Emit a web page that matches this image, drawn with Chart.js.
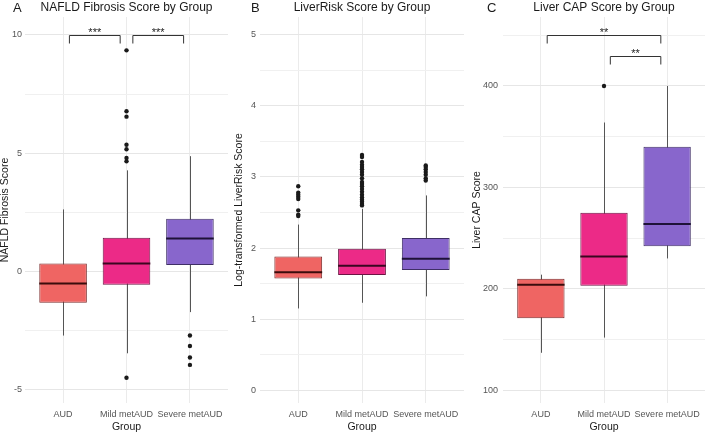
<!DOCTYPE html>
<html>
<head>
<meta charset="utf-8">
<script src="https://cdn.jsdelivr.net/npm/chart.js@4.4.0/dist/chart.umd.min.js"></script>
<style>
  body { margin: 0; background: #fff; }
  #wrap { position: relative; width: 709px; height: 433px; }
  canvas { position: absolute; top: 0; }
</style>
</head>
<body>
<div id="wrap">
  <canvas id="panelA" width="232" height="433" style="left:0px"></canvas>
  <canvas id="panelB" width="238" height="433" style="left:232px"></canvas>
  <canvas id="panelC" width="239" height="433" style="left:470px"></canvas>
</div>
<script>
// groups and colours
const groups = ['AUD', 'Mild metAUD', 'Severe metAUD'];
const boxFill = ['#EF6563', '#EC2A87', '#8866CC'];
const boxLine = ['#7A2B2B', '#6E1444', '#3F2F66'];
const medLine = ['#3A0C0C', '#3A0620', '#1E1238'];

// A : NAFLD fibrosis score
const nafldLow = [-2.7, -3.45, -1.71];
const nafldQ1 = [-1.31, -0.55, 0.28];
const nafldMed = [-0.5, 0.34, 1.4];
const nafldQ3 = [0.34, 1.43, 2.23];
const nafldHigh = [2.63, 4.28, 4.88];
const nafldOut = [[], [9.35, 6.78, 6.55, 5.36, 5.17, 4.8, 4.66, -4.48], [-2.7, -3.14, -3.63, -3.94]];
const nafldTicks = [-5, 0, 5, 10];
const nafldGrid = [-5, -2.5, 0, 2.5, 5, 7.5, 10];
const nafldSig = [{ from: 0.1, to: 0.9, y: 10, text: '***' }, { from: 1.1, to: 1.9, y: 10, text: '***' }];

// B : LiverRisk score (log)
const riskLow = [1.15, 1.23, 1.32];
const riskQ1 = [1.57, 1.62, 1.69];
const riskMed = [1.66, 1.75, 1.85];
const riskQ3 = [1.88, 1.99, 2.14];
const riskHigh = [2.33, 2.55, 2.74];
const riskOut = [
  [2.87, 2.78, 2.75, 2.72, 2.69, 2.53, 2.47, 2.45],
  [3.31, 3.28, 3.21, 3.17, 3.14, 3.11, 3.07, 3.03, 2.98, 2.93, 2.9, 2.87, 2.83, 2.79, 2.75, 2.71, 2.68, 2.65, 2.62, 2.6],
  [3.16, 3.14, 3.11, 3.07, 3.03, 2.98, 2.95]
];
const riskTicks = [0, 1, 2, 3, 4, 5];
const riskGrid = [0, 0.5, 1, 1.5, 2, 2.5, 3, 3.5, 4, 4.5, 5];

// C : Liver CAP score
const capLow = [137, 152, 230];
const capQ1 = [171, 203, 242];
const capMed = [204, 232, 264];
const capQ3 = [210, 275, 340];
const capHigh = [214, 364, 400];
const capOut = [[], [400], []];
const capTicks = [100, 200, 300, 400];
const capGrid = [100, 150, 200, 250, 300, 350, 400, 450];
const capSig = [{ from: 0.1, to: 1.9, y: 450, text: '**' }, { from: 1.1, to: 1.9, y: 430, text: '**' }];

const FONT = '"Liberation Sans", Arial, sans-serif';

// whiskers, medians and significance brackets
const boxExtras = {
  id: 'boxExtras',
  beforeDatasetsDraw(chart, args, opts) {
    const { ctx, scales: { x, y } } = chart;
    ctx.save();
    ctx.strokeStyle = '#555';
    ctx.lineWidth = 1;
    opts.low.forEach((lo, i) => {
      const px = Math.round(x.getPixelForValue(i)) + 0.5;
      ctx.beginPath();
      ctx.moveTo(px, y.getPixelForValue(lo));
      ctx.lineTo(px, y.getPixelForValue(opts.high[i]));
      ctx.stroke();
    });
    ctx.restore();
  },
  afterDatasetsDraw(chart, args, opts) {
    const { ctx, scales: { x, y } } = chart;
    const meta = chart.getDatasetMeta(0);
    ctx.save();
    meta.data.forEach((bar, i) => {
      const half = bar.width / 2;
      const py = y.getPixelForValue(opts.med[i]);
      ctx.strokeStyle = medLine[i];
      ctx.lineWidth = 2;
      ctx.beginPath();
      ctx.moveTo(bar.x - half, py);
      ctx.lineTo(bar.x + half, py);
      ctx.stroke();
    });
    (opts.sig || []).forEach(s => {
      const x1 = x.getPixelForValue(s.from), x2 = x.getPixelForValue(s.to);
      const py = Math.round(y.getPixelForValue(s.y)) + 0.5;
      ctx.strokeStyle = '#333';
      ctx.lineWidth = 1;
      ctx.beginPath();
      ctx.moveTo(x1, py + 8);
      ctx.lineTo(x1, py);
      ctx.lineTo(x2, py);
      ctx.lineTo(x2, py + 8);
      ctx.stroke();
      ctx.fillStyle = '#222';
      ctx.font = '11px ' + FONT;
      ctx.textAlign = 'center';
      ctx.textBaseline = 'alphabetic';
      ctx.fillText(s.text, (x1 + x2) / 2, py);
    });
    ctx.restore();
  }
};

// panel letter + title centred over the plot area
const panelText = {
  id: 'panelText',
  afterDraw(chart, args, opts) {
    const { ctx, chartArea } = chart;
    ctx.save();
    ctx.fillStyle = '#1a1a1a';
    ctx.textBaseline = 'middle';
    ctx.font = '12px ' + FONT;
    ctx.textAlign = 'center';
    ctx.fillText(opts.title, (chartArea.left + chartArea.right) / 2, 8);
    ctx.font = '13px ' + FONT;
    ctx.textAlign = 'left';
    ctx.fillText(opts.letter, opts.letterX, 8);
    ctx.restore();
  }
};

function makePanel(id, p) {
  const boxes = groups.map((g, i) => ({ x: i, y: [p.q1[i], p.q3[i]] }));
  const outliers = p.out.flatMap((vals, i) => vals.map(v => ({ x: i, y: v })));

  new Chart(document.getElementById(id), {
    type: 'bar',
    data: {
      datasets: [{
        data: boxes,
        backgroundColor: boxFill,
        borderColor: boxLine,
        borderWidth: 1,
        borderSkipped: false,
        barPercentage: 0.75,
        categoryPercentage: 1
      }, {
        type: 'scatter',
        data: outliers,
        pointRadius: 2.2,
        backgroundColor: '#1a1a1a',
        borderWidth: 0
      }]
    },
    options: {
      responsive: false,
      animation: false,
      devicePixelRatio: 1,
      layout: { padding: { top: 17, left: 0, right: p.padRight, bottom: 0 } },
      plugins: {
        legend: { display: false },
        tooltip: { enabled: false },
        boxExtras: { low: p.low, high: p.high, med: p.med, sig: p.sig },
        panelText: { title: p.title, letter: p.letter, letterX: p.letterX }
      },
      scales: {
        x: {
          type: 'linear',
          min: -0.6,
          max: 2.6,
          offset: false,
          afterBuildTicks: s => { s.ticks = groups.map((g, i) => ({ value: i })); },
          afterFit: s => { s.height = 30; },
          ticks: {
            callback: v => groups[v],
            autoSkip: false,
            maxRotation: 0,
            padding: 6,
            color: '#555',
            font: { family: FONT, size: 9 }
          },
          grid: { color: '#ebebeb', drawTicks: false, offset: false },
          border: { display: false },
          title: {
            display: true,
            text: 'Group',
            color: '#1a1a1a',
            font: { family: FONT, size: 10.5 },
            padding: { top: 0, bottom: 0 }
          }
        },
        y: {
          min: p.min,
          max: p.max,
          afterBuildTicks: s => { s.ticks = p.grid.map(v => ({ value: v })); },
          afterFit: s => { s.width = p.yWidth; },
          ticks: {
            callback: v => p.ticks.includes(v) ? String(v) : '',
            padding: p.tickPad,
            color: '#555',
            font: { family: FONT, size: 9 }
          },
          grid: {
            drawTicks: false,
            color: c => p.ticks.includes(c.tick.value) ? '#e6e6e6' : '#f0f0f0'
          },
          border: { display: false },
          title: {
            display: true,
            text: p.yTitle,
            color: '#1a1a1a',
            font: { family: FONT, size: 10.5, lineHeight: 1 },
            padding: { top: p.titlePad, bottom: 0 }
          }
        }
      }
    },
    plugins: [boxExtras, panelText]
  });
}

makePanel('panelA', {
  low: nafldLow, q1: nafldQ1, med: nafldMed, q3: nafldQ3, high: nafldHigh, out: nafldOut,
  ticks: nafldTicks, grid: nafldGrid, sig: nafldSig, min: -5.55, max: 10.76,
  title: 'NAFLD Fibrosis Score by Group', letter: 'A', letterX: 13,
  yTitle: 'NAFLD Fibrosis Score', yWidth: 25, tickPad: 3, titlePad: 0, padRight: 0
});

makePanel('panelB', {
  low: riskLow, q1: riskQ1, med: riskMed, q3: riskQ3, high: riskHigh, out: riskOut,
  ticks: riskTicks, grid: riskGrid, sig: [], min: -0.18, max: 5.25,
  title: 'LiverRisk Score by Group', letter: 'B', letterX: 19,
  yTitle: 'Log-transformed LiverRisk Score', yWidth: 28, tickPad: 4, titlePad: 2, padRight: 6
});

makePanel('panelC', {
  low: capLow, q1: capQ1, med: capMed, q3: capQ3, high: capHigh, out: capOut,
  ticks: capTicks, grid: capGrid, sig: capSig, min: 87.5, max: 468,
  title: 'Liver CAP Score by Group', letter: 'C', letterX: 17,
  yTitle: 'Liver CAP Score', yWidth: 33, tickPad: 5, titlePad: 2, padRight: 1
});
</script>
</body>
</html>
